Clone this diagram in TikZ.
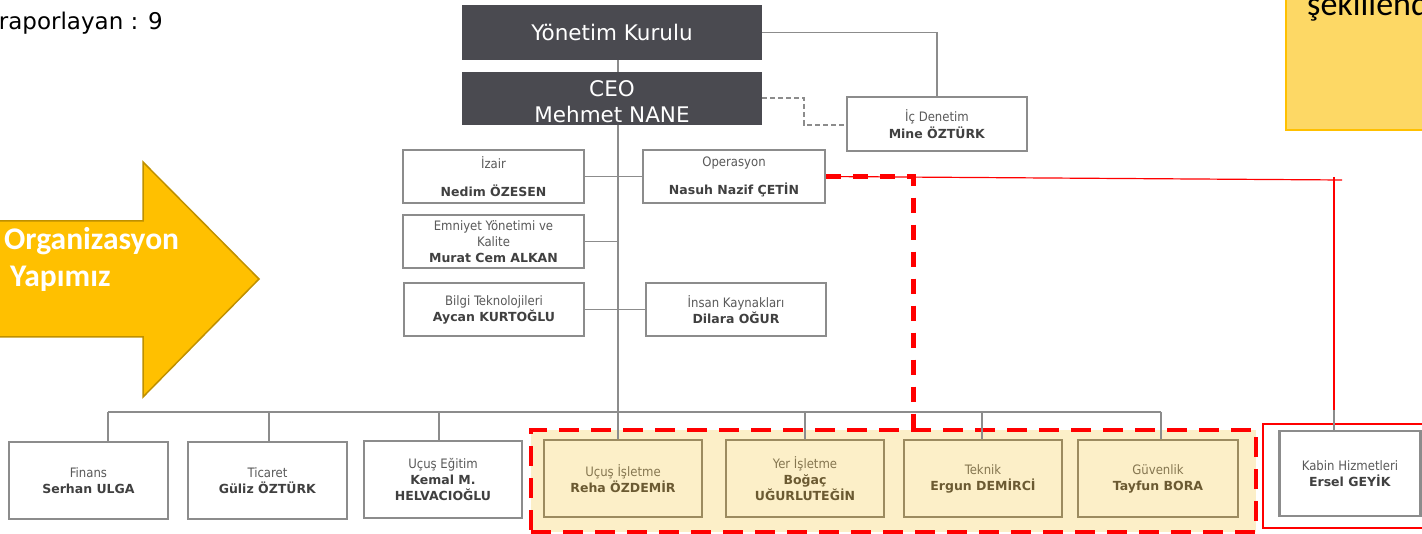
\documentclass[tikz,border=0pt]{standalone}
\usepackage{fontspec}
\usetikzlibrary{calc}
\setmainfont{DejaVu Sans}
\newfontfamily\cond{DejaVu Sans Condensed}
\newfontfamily\calibri{Carlito}
\definecolor{darkbox}{HTML}{4A4A50}
\definecolor{boxgray}{HTML}{8C8C8C}
\definecolor{txtgray}{HTML}{404040}
\definecolor{lblgray}{HTML}{595959}
\definecolor{linegray}{HTML}{8C8C8C}
\definecolor{yfill}{HTML}{FCEFC8}
\definecolor{ybord}{HTML}{9C8B60}
\definecolor{ytxt}{HTML}{6B5A32}
\definecolor{ylbl}{HTML}{857650}
\definecolor{arrfill}{HTML}{FFC000}
\definecolor{arrdraw}{HTML}{BF9000}
\definecolor{notefill}{HTML}{FDD865}
\definecolor{notedraw}{HTML}{FFC000}
\pgfdeclarelayer{bgg}
\pgfdeclarelayer{bg}
\pgfsetlayers{bgg,bg,main}
\newcommand{\lb}[1]{{\cond\fontsize{13}{16}\selectfont\color{lblgray}#1}}
\newcommand{\ylb}[1]{{\cond\fontsize{13}{16}\selectfont\color{ylbl}#1}}
\newcommand{\nm}[1]{\textbf{#1}}
\begin{document}
\begin{tikzpicture}[x=1pt,y=-1pt,
  darkbx/.style={fill=darkbox, text=white, minimum width=300pt, inner sep=0pt, align=center, font=\fontsize{21.5}{26}\selectfont},
  orgbox/.style={draw=boxgray, line width=2.5pt, fill=white, minimum height=53pt, inner sep=0pt, align=center, text=txtgray, font=\fontsize{12.5}{16}\selectfont},
  ybox/.style={orgbox, draw=ybord, fill=yfill, text=ytxt, minimum width=158pt, minimum height=77pt},
  conn/.style={draw=linegray, line width=1.2pt},
]
\useasboundingbox (0,0) rectangle (1422,534);

% big arrow
\draw[fill=arrfill, draw=arrdraw, line width=1.5pt] (-10,221) -- (143,221) -- (143,162) -- (259,279) -- (143,397) -- (143,337) -- (-10,337) -- cycle;
\node[anchor=base west, text=white, font=\calibri\bfseries\fontsize{31.5}{36}\selectfont, inner sep=0pt] (org1) at (4,250) {Organizasyon};
\node[anchor=base west, text=white, font=\calibri\bfseries\fontsize{31.5}{36}\selectfont, inner sep=0pt] (org2) at (10,287) {Yapımız};

% note box top right
\node[draw=notedraw, fill=notefill, line width=2pt, minimum width=160pt, minimum height=145pt, anchor=south west, inner sep=0pt] (note) at (1285,131) {};
\node[anchor=base west, inner sep=0pt, font=\calibri\fontsize{34}{40}\selectfont] (notet) at (1307,16) {şekillendi};

% top-left text
\node[anchor=base east, inner sep=0pt, font=\fontsize{23}{26}\selectfont, text=black] (rap) at (163,30) {raporlayan : 9};

% top boxes
\node[darkbx, minimum height=55pt] (yk) at (612,32.5) {Yönetim Kurulu};
\node[darkbx, minimum height=53pt] (ceo) at (612,98.5) {};
\node[darkbx, minimum width=0pt, fill=none] (ceot) at (612,101.5) {CEO\\Mehmet NANE};

\node[orgbox, minimum width=180pt, minimum height=54pt] (id) at (937,124) {\lb{İç Denetim}\\[1pt]\nm{Mine ÖZTÜRK}};

\node[orgbox, minimum width=181pt] (izair) at (493.5,176.5) {\lb{İzair}\\[12pt]\nm{Nedim ÖZESEN}};
\node[orgbox, minimum width=182pt] (ops) at (734,176.5) {\lb{Operasyon}\\[12pt]\nm{Nasuh Nazif ÇETİN}};
\node[orgbox, minimum width=181pt] (emn) at (493.5,241.5) {\lb{Emniyet Yönetimi ve}\\\lb{Kalite}\\\nm{Murat Cem ALKAN}};
\node[orgbox, minimum width=180pt] (bilgi) at (494,309.5) {\lb{Bilgi Teknolojileri}\\\nm{Aycan KURTOĞLU}};
\node[orgbox, minimum width=180pt] (ik) at (736,309.5) {\lb{İnsan Kaynakları}\\\nm{Dilara OĞUR}};

% bottom row
\node[orgbox, minimum width=159pt, minimum height=77pt] (fin) at (88.5,480.5) {\lb{Finans}\\\nm{Serhan ULGA}};
\node[orgbox, minimum width=159pt, minimum height=77pt] (tic) at (267.5,480.5) {\lb{Ticaret}\\\nm{Güliz ÖZTÜRK}};
\node[orgbox, minimum width=158pt, minimum height=77pt] (ue) at (443,479.5) {\lb{Uçuş Eğitim}\\\nm{Kemal M.}\\\nm{HELVACIOĞLU}};

\node[ybox] (ui) at (623,478.5) {\ylb{Uçuş İşletme}\\\nm{Reha ÖZDEMİR}};
\node[ybox] (yer) at (805,478.5) {\ylb{Yer İşletme}\\\nm{Boğaç}\\\nm{UĞURLUTEĞİN}};
\node[ybox] (tek) at (983,478.5) {\ylb{Teknik}\\\nm{Ergun DEMİRCİ}};
\node[ybox, minimum width=160pt] (guv) at (1158,478.5) {\ylb{Güvenlik}\\\nm{Tayfun BORA}};

\node[orgbox, minimum width=141pt, minimum height=85pt] (kab) at (1350,473.5) {\lb{Kabin Hizmetleri}\\\nm{Ersel GEYİK}};

% group frames
\begin{pgfonlayer}{bgg}
\node[draw=red, fill=yfill, line width=4pt, dash pattern=on 20pt off 12pt, minimum width=725pt, minimum height=102pt, inner sep=0pt] (grp) at (893.5,481) {};
\node[draw=red, line width=2.5pt, minimum width=175pt, minimum height=104pt, inner sep=0pt] (kgrp) at (1350.5,476) {};
\end{pgfonlayer}

% connector coordinates
\coordinate (d1) at (108,412);
\coordinate (d2) at (269,412);
\coordinate (d3) at (439,412);
\coordinate (d4) at (618,412);
\coordinate (d5) at (805,412);
\coordinate (d6) at (982,412);
\coordinate (d7) at (1161,412);
\coordinate (yr) at (937,32.5);
\coordinate (cd1) at (804,98);
\coordinate (cd2) at (804,125);
\coordinate (rd) at (913,176.5);
\coordinate (kc) at (1342,180);
\coordinate (kt) at (1334,177);
\coordinate (kb) at (1334,410);
\coordinate (kg) at (1334,407);

\begin{pgfonlayer}{bg}
\draw[conn] (yk.south -| d4) -- (ceo.north -| d4);
\draw[conn] (ceo.south -| d4) -- (ui.north -| d4);
\draw[conn] (yk.east) -- (yr) -- (id.north);
\draw[draw=linegray, line width=1.2pt, dash pattern=on 5pt off 3pt] (ceo.east |- cd1) -- (cd1) -- (cd2) -- (id.west |- cd2);
\draw[conn] (izair.east) -- (ops.west);
\draw[conn] (emn.east) -- (emn.east -| d4);
\draw[conn] (bilgi.east) -- (ik.west);
\draw[conn] (d1) -- (d7);
\draw[conn] (d1) -- (fin.north -| d1);
\draw[conn] (d2) -- (tic.north -| d2);
\draw[conn] (d3) -- (ue.north -| d3);
\draw[conn] (d5) -- (yer.north -| d5);
\draw[conn] (d6) -- (tek.north -| d6);
\draw[conn] (d7) -- (guv.north -| d7);
\draw[conn] (kg) -- ($(kab.north -| kg)+(0,3)$);
\draw[red, line width=5pt, dash pattern=on 15pt off 12pt] (ops.east) -- (rd) -- (rd |- grp.north);
\draw[red, line width=1.2pt] (ops.east) -- (kc);
\draw[red, line width=1.2pt] (kt) -- (kb);
\end{pgfonlayer}
\end{tikzpicture}
\end{document}
